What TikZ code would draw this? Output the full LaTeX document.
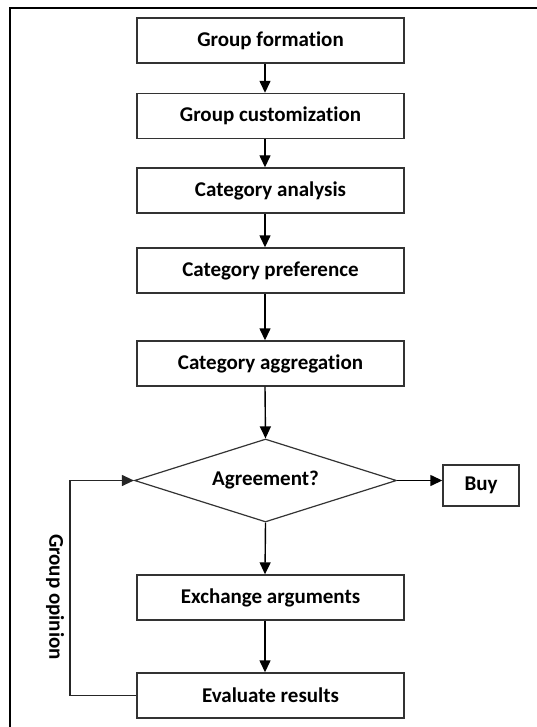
\documentclass[tikz,border=0pt]{standalone}
\usepackage{fontspec}
\setmainfont{Carlito}[RawFeature={-liga}]
\usetikzlibrary{shapes.geometric,arrows.meta}
\begin{document}
\begin{tikzpicture}[x=1pt,y=-1pt,
  stepbox/.style={draw=black!80,line width=1.4pt,minimum width=267pt,minimum height=45pt,inner sep=0pt,font=\fontsize{21}{24}\selectfont\bfseries},
  decision/.style={diamond,draw=black!80,line width=1.2pt,minimum width=262pt,minimum height=83pt,inner sep=0pt,aspect=3.16,font=\fontsize{21}{24}\selectfont\bfseries},
  flow/.style={line width=1.4pt,-{Triangle[length=12pt,width=11pt]}},
  lbl/.style={font=\fontsize{21}{24}\selectfont\bfseries}]
\useasboundingbox (0,0) rectangle (536,727);
\fill[white] (0,0) rectangle (536,727);
\draw[line width=2pt] (9.5,730) -- (9.5,8.5) -- (540,8.5);
\coordinate (spine) at (265,0);
\node[stepbox] (b1) at (270.5,40.5) {Group formation};
\node[stepbox] (b2) at (270.5,116) {Group customization};
\node[stepbox] (b3) at (270.5,190.5) {Category analysis};
\node[stepbox] (b4) at (270.5,270.5) {Category preference};
\node[stepbox] (b5) at (270.5,363.5) {Category aggregation};
\node[decision] (dia) at (265.5,480.5) {Agreement?};
\node[stepbox,minimum width=76pt,minimum height=41pt] (buy) at (481,485.5) {Buy};
\node[stepbox] (b6) at (270.5,597.5) {Exchange arguments};
\node[stepbox] (b7) at (270.5,695.5) {Evaluate results};
\coordinate (loopx) at (70,481);
\node[lbl,rotate=-90] (gop) at (55,597) {Group opinion};
\draw[flow] (b1.south -| spine) -- (b2.north -| spine);
\draw[flow] (b2.south -| spine) -- (b3.north -| spine);
\draw[flow] (b3.south -| spine) -- (b4.north -| spine);
\draw[flow] (b4.south -| spine) -- (b5.north -| spine);
\draw[flow] (b5.south -| spine) -- (dia.north);
\draw[flow] (dia.south) -- (b6.north -| spine);
\draw[flow] (b6.south -| spine) -- (b7.north -| spine);
\draw[flow] (dia.east) -- (buy.west |- dia.east);
\draw[flow,line width=1.1pt,draw=black!85] (b7.west) -| (loopx) |- (dia.west);
\end{tikzpicture}
\end{document}
